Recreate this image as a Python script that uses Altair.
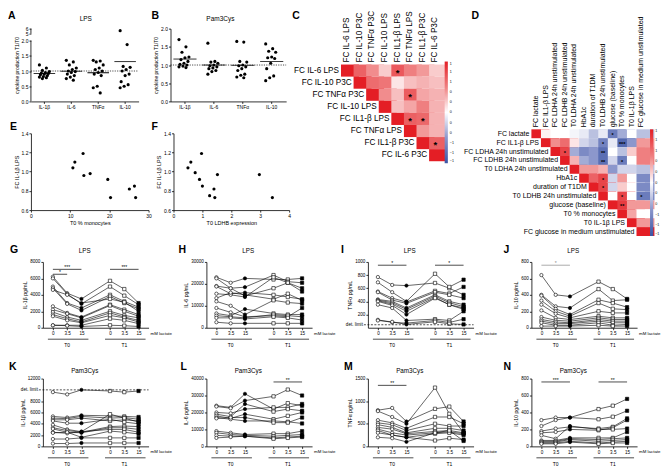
import altair as alt
import pandas as pd

# ---------------- A / B : cytokine production T1/T0 ----------------
CYTOKINES = ["IL-1β", "IL-6", "TNFα", "IL-10"]
A_IL1B = [1.20, 1.10, 1.02, 0.98, 0.95, 0.93, 0.92, 0.90, 0.88, 0.85, 0.82, 0.80, 0.78, 0.75]
A_IL6 = [1.35, 1.30, 1.20, 1.10, 1.05, 1.00, 0.98, 0.95, 0.90, 0.85, 0.80, 0.75, 0.70]
A_TNFA = [1.35, 1.33, 1.30, 1.20, 1.10, 1.05, 1.00, 0.95, 0.90, 0.85, 0.50, 0.45, 0.28]
A_IL10 = [5.60, 1.87, 1.15, 1.12, 1.05, 1.00, 0.90, 0.85, 0.65, 0.55, 0.50, 0.45]
B_IL1B = [1.70, 1.50, 1.35, 1.22, 1.20, 1.15, 1.10, 1.05, 1.02, 1.00, 0.97, 0.95, 0.93]
B_IL6 = [1.60, 1.10, 1.08, 1.05, 1.00, 0.98, 0.95, 0.92, 0.90, 0.85, 0.82, 0.75]
B_TNFA = [1.65, 1.63, 1.10, 1.08, 1.00, 0.98, 0.95, 0.90, 0.85, 0.75, 0.72, 0.67, 0.65]
B_IL10 = [1.58, 1.45, 1.38, 1.35, 1.22, 1.20, 1.18, 1.05, 0.90, 0.70, 0.65, 0.57]

# ---------------- E / F : scatter ----------------
E_MONO = [10.7, 11.2, 13.3, 13.5, 15.1, 19.6, 20.3, 25.1, 26.4, 26.7]
E_FC = [1.04, 1.10, 1.19, 0.96, 0.98, 0.92, 0.73, 0.82, 0.85, 0.73]
F_LDHB = [0.50, 0.60, 0.75, 0.90, 0.97, 1.00, 1.25, 1.40, 1.43, 1.52, 2.97, 3.42]
F_FC = [1.04, 1.10, 0.99, 0.92, 1.19, 0.85, 0.75, 0.82, 0.73, 0.97, 0.97, 0.73]

# ---------------- C / D : correlation matrices (upper triangle) ----------------
C_VARS = ["FC IL-6 LPS", "FC IL-10 P3C", "FC TNFα P3C", "FC IL-10 LPS",
          "FC IL1-β LPS", "FC TNFα LPS", "FC IL1-β P3C", "FC IL-6 P3C"]
C_ROWS = [
    [1.0, 0.65, 0.45, 0.20, 0.70, 0.50, 0.40, 0.20],
    [1.0, 0.60, 0.55, 0.10, 0.25, 0.30, 0.25],
    [1.0, 0.45, 0.25, 0.68, 0.35, 0.30],
    [1.0, 0.25, 0.35, 0.50, 0.30],
    [1.0, 0.66, 0.62, 0.30],
    [1.0, 0.40, 0.30],
    [1.0, 0.66],
    [1.0],
]
C_SIG = [(0, 4, "*"), (2, 5, "*"), (4, 5, "*"), (4, 6, "*"), (6, 7, "*")]

D_VARS = ["FC lactate", "FC IL1-β LPS", "FC LDHA 24h unstimulated", "FC LDHB 24h unstimulated",
          "T0 LDHA 24h unstimulated", "HbA1c", "duration of T1DM", "T0 LDHB 24h unstimulated",
          "glucose (baseline)", "T0 % monocytes", "T0 IL-1β LPS", "FC glucose in medium unstimulated"]
D_ROWS = [
    [1.0, 0.05, 0.0, 0.0, -0.05, -0.10, -0.30, -0.10, -0.70, -0.40, 0.00, -0.30],
    [1.0, 0.45, 0.60, 0.10, -0.20, -0.30, -0.65, -0.10, -0.85, -0.50, 0.40],
    [1.0, 0.80, -0.40, -0.60, -0.50, -0.80, 0.00, -0.30, 0.20, 0.50],
    [1.0, 0.30, -0.40, -0.50, -0.80, -0.20, -0.70, 0.00, 0.50],
    [1.0, 0.40, 0.40, 0.30, -0.50, -0.20, -0.20, -0.30],
    [1.0, 0.65, 0.80, -0.20, 0.40, 0.00, -0.60],
    [1.0, 0.80, -0.20, 0.20, 0.00, -0.60],
    [1.0, 0.00, 0.80, 0.00, -0.70],
    [1.0, 0.85, 0.40, 0.40],
    [1.0, 0.35, 0.00],
    [1.0, 0.40],
    [1.0],
]
D_SIG = [(0, 8, "*"), (1, 7, "*"), (1, 9, "***"), (2, 3, "*"), (2, 7, "**"), (3, 7, "**"),
         (3, 9, "*"), (5, 7, "*"), (6, 7, "*"), (7, 9, "*"), (7, 11, "*"), (8, 9, "**")]

# ---------------- G-N : donors x (T0: 0, 3.5, 15 mM ; T1: 0, 3.5, 15 mM) ----------------
G_DONORS = [
    [6200, 4200, 3500, 5700, 4700, 3000], [6000, 4100, 2900, 5000, 3900, 2800],
    [5000, 3000, 2400, 4000, 3200, 2500], [4800, 2900, 2100, 3800, 3000, 2300],
    [4600, 4000, 3000, 3500, 3100, 2000], [2600, 1800, 1300, 2800, 2200, 1600],
    [2200, 1700, 1200, 2700, 2000, 1400], [1900, 1300, 900, 2000, 1500, 1200],
    [1600, 1100, 700, 1800, 1300, 900], [1400, 900, 600, 1500, 1200, 700],
    [300, 300, 300, 1100, 900, 500], [300, 250, 150, 300, 250, 150],
]
H_DONORS = [
    [23000, 20500, 22500, 22000, 22000, 22500], [22500, 18000, 18500, 24000, 21000, 20500],
    [19000, 18000, 14500, 18000, 20500, 16500], [18800, 15500, 16000, 15000, 14000, 13000],
    [15500, 15000, 14000, 23000, 20500, 18000], [13500, 16000, 15000, 13000, 15500, 12500],
    [12000, 10000, 6000, 12500, 11500, 11000], [9000, 7000, 5000, 5500, 5000, 9000],
    [6500, 5500, 8500, 6500, 6000, 6000], [5500, 5000, 4500, 6000, 5500, 5000],
    [4500, 4500, 4000, 5000, 4500, 3500], [2500, 2000, 2000, 2000, 2000, 2000],
]
I_DONORS = [
    [770, 650, 640, 680, 600, 500], [690, 540, 400, 820, 620, 730],
    [550, 450, 390, 560, 520, 620], [540, 420, 370, 540, 500, 450],
    [430, 400, 300, 500, 400, 350], [420, 380, 280, 480, 380, 320],
    [410, 360, 250, 460, 350, 300], [400, 340, 200, 450, 350, 280],
    [350, 300, 110, 130, 110, 250], [120, 80, 70, 110, 80, 130],
    [110, 90, 50, 90, 60, 50],
]
J_DONORS = [
    [640, 400, 380, 560, 470, 350], [400, 260, 240, 470, 330, 340],
    [390, 230, 160, 340, 300, 250], [330, 200, 140, 300, 230, 220],
    [280, 170, 120, 200, 180, 180], [210, 120, 100, 140, 120, 120],
    [130, 90, 80, 120, 100, 100], [100, 70, 60, 100, 80, 80],
    [80, 50, 50, 80, 60, 60], [60, 30, 30, 60, 30, 40], [20, 20, 20, 30, 20, 20],
]
K_DONORS = [
    [9600, 9200, 10000, 9800, 9600, 9800], [5300, 5100, 5500, 5400, 5300, 5200],
    [5000, 4900, 5300, 5000, 5100, 4800], [4700, 4700, 5000, 4500, 4700, 4500],
    [4500, 4100, 4100, 4800, 4300, 4000], [3800, 3000, 2600, 5700, 5000, 4300],
    [3300, 2800, 2500, 3500, 3600, 3500], [3100, 2500, 2400, 3300, 3300, 3000],
    [2500, 2300, 2600, 3000, 3000, 2500], [2400, 2500, 1600, 2700, 2500, 2200],
    [1300, 1300, 1500, 1500, 1500, 1500], [500, 500, 600, 600, 600, 600],
]
L_DONORS = [
    [24000, 23000, 31000, 22000, 25500, 24000], [23500, 22500, 27000, 29500, 33500, 30000],
    [20000, 19500, 22000, 23000, 23000, 25000], [19000, 17500, 25000, 20500, 22000, 21000],
    [18000, 16500, 19000, 16000, 18000, 20000], [17000, 16000, 15000, 15000, 14500, 13500],
    [16500, 17000, 17000, 14000, 14000, 17000], [9000, 8000, 7000, 7500, 7500, 9000],
    [8000, 7000, 6500, 6000, 6500, 7000], [6500, 6000, 6000, 5000, 5500, 6000],
    [5000, 5500, 6000, 4500, 5000, 5500],
]
M_DONORS = [
    [800, 850, 550, 830, 880, 550], [780, 650, 500, 1300, 720, 300],
    [580, 520, 400, 650, 650, 500], [520, 480, 350, 500, 450, 450],
    [480, 420, 300, 400, 400, 350], [420, 380, 280, 330, 350, 300],
    [380, 300, 250, 300, 320, 280], [350, 250, 200, 280, 300, 250],
    [300, 250, 200, 130, 180, 150], [200, 180, 100, 300, 350, 120],
]
N_DONORS = [
    [310, 340, 340, 440, 480, 560], [240, 310, 340, 320, 350, 420],
    [180, 210, 230, 210, 230, 330], [160, 170, 200, 190, 220, 310],
    [130, 90, 240, 200, 200, 210], [70, 70, 100, 100, 100, 170],
    [60, 60, 90, 80, 90, 100], [50, 50, 80, 60, 70, 80],
    [40, 40, 60, 40, 50, 60], [30, 30, 50, 30, 40, 40],
]
CONDITIONS = [("T0", "0"), ("T0", "3.5"), ("T0", "15"), ("T1", "0"), ("T1", "3.5"), ("T1", "15")]

# ---------------- layout / style ----------------
FONT = "Liberation Sans"
RED = "#E41E25"
BLUE = "#3A54A4"
COL_W = [140, 171, 191, 122]
ROW_H = [93, 109, 118, 119]
PTOP = [20, 32, 52, 51]
PW = 106
ONE = pd.DataFrame({"k": [0]})
KEYS = ["T0|0", "T0|3.5", "T0|15", "gap", "T1|0", "T1|3.5", "T1|15"]


def txt(s, x, y, size, weight="normal", align="left", baseline="alphabetic", color="black"):
    return alt.Chart(ONE).mark_text(text=s, fontSize=size, fontWeight=weight, align=align,
                                    baseline=baseline, color=color, font=FONT).encode(
        x=alt.value(x), y=alt.value(y))


def letter(s, x, y):
    return txt(s, x, y, 10.5, weight="bold")


def strip_panel(lists, col, W, yscale, yvals, broken, let, letx, title, titlex):
    H = ROW_H[0]
    recs = []
    for cat, vals in zip(CYTOKINES, lists):
        for i, v in enumerate(vals):
            recs.append({"cyt": cat, "v": v, "j": ((i * 7) % 11 - 5) / 5})
    df = pd.DataFrame(recs)
    bw = W / 4
    xs = alt.Scale(domain=CYTOKINES, range=[0, W], paddingInner=0, paddingOuter=0)
    xax = alt.Axis(title=None, labelAngle=0, tickSize=2, labelFontSize=5, labelPadding=1)
    yax = alt.Axis(title="cytokine production T1/T0", values=yvals,
                   labelExpr="datum.value > 3 ? format(datum.value, 'd') : format(datum.value, '.1f')",
                   tickSize=2, labelFontSize=5, labelPadding=1, titlePadding=2, titleFontSize=5,
                   domain=not broken)
    base = alt.Chart(df)
    pts = base.mark_circle(size=10, color="black", opacity=1).encode(
        x=alt.X("cyt:N", scale=xs, axis=xax),
        xOffset=alt.XOffset("j:Q", scale=alt.Scale(domain=[-1, 1], range=[bw / 2 - 5, bw / 2 + 5])),
        y=alt.Y("v:Q", scale=yscale, axis=yax))
    mean = base.mark_tick(color="black", thickness=0.8, size=bw * 0.8).encode(
        x=alt.X("cyt:N", scale=xs, axis=xax),
        y=alt.Y("mean(v):Q", scale=yscale, axis=yax))
    ref = alt.Chart(ONE).mark_rule(color="black", strokeWidth=0.7, strokeDash=[1.2, 1.2]).encode(
        x=alt.value(0), x2=alt.value(W), y=alt.YDatum(1, scale=yscale, axis=yax))
    layers = [pts, mean, ref]
    if broken:
        for a, b in [(0, 2.0), (5, 6)]:
            layers.append(alt.Chart(ONE).mark_rule(color="black", strokeWidth=0.8).encode(
                x=alt.value(0), y=alt.YDatum(a, scale=yscale, axis=yax), y2=alt.Y2Datum(b)))
    layers += [letter(let, letx, 10), txt(title, titlex, 12, 6.5, align="center")]
    return alt.layer(*layers).properties(width=COL_W[col], height=H)


def scatter_panel(xv, yv, col, xdom, xticks, xtitle, x0, W, let, letx):
    H, top = ROW_H[1], PTOP[1]
    df = pd.DataFrame({"x": xv, "y": yv})
    xs = alt.Scale(domain=xdom, range=[x0, x0 + W], nice=False, zero=False)
    ys = alt.Scale(domain=[0.6, 1.4], range=[H, top], nice=False, zero=False)
    pts = alt.Chart(df).mark_circle(size=10, color="black", opacity=1).encode(
        x=alt.X("x:Q", scale=xs, axis=alt.Axis(title=xtitle, values=xticks, format="d", tickSize=2,
                                               labelFontSize=5, titleFontSize=5.5, labelPadding=1,
                                               titlePadding=2, labelFlush=False)),
        y=alt.Y("y:Q", scale=ys, axis=alt.Axis(title="FC IL-1β LPS", values=[0.6, 0.8, 1.0, 1.2, 1.4],
                                               format=".1f", offset=-x0, tickSize=2, labelFontSize=5,
                                               titleFontSize=5.5, labelPadding=1, titlePadding=2,
                                               labelFlush=False)))
    return alt.layer(pts, letter(let, letx, 29)).properties(width=COL_W[col], height=H)


def heat_panel(vars_, rows, sig, col, xr, yr, fs, sigfs, legx, legy, leglen, let, letx):
    n = len(vars_)
    cw = (xr[1] - xr[0]) / n
    ch = (yr[1] - yr[0]) / n
    recs = []
    for i, row in enumerate(rows):
        for k, v in enumerate(row):
            recs.append({"r": vars_[i], "c": vars_[i + k], "v": v})
    df = pd.DataFrame(recs)
    xs = alt.Scale(domain=vars_, range=xr, paddingInner=0, paddingOuter=0)
    ys = alt.Scale(domain=vars_, range=yr, paddingInner=0, paddingOuter=0)
    X = alt.X("c:N", scale=xs, axis=None)
    Y = alt.Y("r:N", scale=ys, axis=None)
    rect = alt.Chart(df).mark_rect().encode(
        x=X, y=Y,
        color=alt.Color("v:Q", scale=alt.Scale(domain=[-1, -0.5, 0, 0.5, 1],
                                               range=[BLUE, "#8C97CC", "#FFFFFF", "#EF7F80", RED],
                                               interpolate="rgb"),
                        legend=alt.Legend(orient="none", legendX=legx, legendY=legy,
                                          direction="vertical", gradientLength=leglen,
                                          gradientThickness=3.2, title=None,
                                          values=[1, 0.8, 0.6, 0.4, 0.2, 0, -0.2, -0.4, -0.6, -0.8, -1],
                                          labelFontSize=3.6, labelOverlap=False, labelOffset=2,
                                          gradientStrokeWidth=0, labelFont=FONT)))
    lab = pd.DataFrame({"r": vars_, "c": vars_})
    rowlab = alt.Chart(lab).mark_text(align="right", baseline="middle", fontSize=fs, dx=-(cw / 2 + 2),
                                      font=FONT).encode(x=X, y=Y, text="r:N")
    top = pd.DataFrame({"c": vars_, "r": [vars_[0]] * n})
    collab = alt.Chart(top).mark_text(align="left", baseline="middle", angle=270, fontSize=fs,
                                      dx=ch / 2 + 2, font=FONT).encode(x=X, y=Y, text="c:N")
    sdf = pd.DataFrame([{"r": vars_[i], "c": vars_[j], "s": s} for i, j, s in sig])
    stars = alt.Chart(sdf).mark_text(baseline="middle", fontSize=sigfs, fontWeight="bold",
                                     dy=sigfs * 0.25, font=FONT).encode(x=X, y=Y, text="s:N")
    return alt.layer(rect, rowlab, collab, stars, letter(let, letx, 10)).properties(
        width=COL_W[col], height=ROW_H[0])


def line_panel(donors, ymax, yticks, ytitle, col, row, x0, let, letx, title,
               sig=(), det=None):
    W, H, top = COL_W[col], ROW_H[row], PTOP[row]
    recs = []
    for d, vals in enumerate(donors):
        for i, ((tp, lac), v) in enumerate(zip(CONDITIONS, vals)):
            recs.append({"donor": d, "tp": tp, "lac": lac, "key": f"{tp}|{lac}", "idx": i, "v": v})
    df = pd.DataFrame(recs)
    xs = alt.Scale(type="point", domain=KEYS, range=[x0, x0 + PW], padding=0.7)
    ys = alt.Scale(domain=[0, ymax], range=[H, top], nice=False, zero=False)
    xax = alt.Axis(title=None, values=KEYS[:3] + KEYS[4:], labelExpr="split(datum.value, '|')[1]",
                   labelAngle=0, tickSize=2, labelPadding=1)
    yax = alt.Axis(title=ytitle, values=yticks, format="d", offset=-x0, tickSize=2,
                   labelPadding=1, titlePadding=2)
    X = alt.X("key:N", scale=xs, axis=xax)
    Y = alt.Y("v:Q", scale=ys, axis=yax)
    base = alt.Chart(df)
    lines = base.mark_line(color="black", strokeWidth=0.6).encode(
        x=X, y=Y, detail="donor:N", order="idx:Q")
    pts = base.mark_point(filled=True, size=11, stroke="black", strokeWidth=0.6, opacity=1).encode(
        x=X, y=Y,
        shape=alt.Shape("tp:N", scale=alt.Scale(domain=["T0", "T1"], range=["circle", "square"]),
                        legend=None),
        fill=alt.condition("datum.lac == '15'", alt.value("black"), alt.value("white")))
    layers = [lines, pts]
    under = pd.DataFrame({"a": ["T0|0", "T1|0"], "b": ["T0|15", "T1|15"],
                          "m": ["T0|3.5", "T1|3.5"], "lab": ["T0", "T1"]})
    layers.append(alt.Chart(under).mark_rule(color="black", strokeWidth=0.7, xOffset=-5, x2Offset=7).encode(
        x=alt.X("a:N", scale=xs, axis=xax), x2="b:N", y=alt.value(H + 11.5)))
    layers.append(alt.Chart(under).mark_text(fontSize=5, baseline="alphabetic", font=FONT).encode(
        x=alt.X("m:N", scale=xs, axis=xax), y=alt.value(H + 19.5), text="lab:N"))
    layers.append(txt("mM lactate", x0 + PW + 2, H + 6, 4.4, baseline="middle"))
    for a, b, yv, lab, mid, dx, colr in sig:
        layers.append(alt.Chart(ONE).mark_rule(color=colr, strokeWidth=0.7).encode(
            x=alt.XDatum(a, type="nominal", scale=xs, axis=xax), x2=alt.X2Datum(b),
            y=alt.YDatum(yv, scale=ys, axis=yax)))
        layers.append(alt.Chart(ONE).mark_text(text=lab, fontSize=5, dx=dx, dy=1, baseline="bottom",
                                               color=colr, font=FONT).encode(
            x=alt.XDatum(mid, type="nominal", scale=xs, axis=xax), y=alt.YDatum(yv, scale=ys, axis=yax)))
    if det is not None:
        layers.append(alt.Chart(ONE).mark_rule(color="black", strokeWidth=0.7, strokeDash=[2, 1.5]).encode(
            x=alt.value(x0 - 4), x2=alt.value(x0 + PW), y=alt.YDatum(det, scale=ys, axis=yax)))
        layers.append(alt.Chart(ONE).mark_text(text="det. limit", align="right", baseline="middle",
                                               fontSize=4.6, font=FONT).encode(
            x=alt.value(x0 - 5), y=alt.YDatum(det, scale=ys, axis=yax)))
    ly = 43 if row == 2 else 42
    ty = 43 if row == 2 else 45
    layers += [letter(let, letx, ly), txt(title, x0 + 42, ty, 6.3, align="center")]
    return alt.layer(*layers).properties(width=W, height=H)


# ---------------- panels ----------------
A = strip_panel([A_IL1B, A_IL6, A_TNFA, A_IL10], 0, 108,
                alt.Scale(domain=[0, 2, 5, 6], range=[93, 32, 25, 20], nice=False, zero=False),
                [0, 0.5, 1.0, 1.5, 2.0, 5, 6], True, "A", -23, "LPS", 55)
B = strip_panel([B_IL1B, B_IL6, B_TNFA, B_IL10], 1, 116,
                alt.Scale(domain=[0, 2], range=[93, 20], nice=False, zero=False),
                [0, 0.5, 1.0, 1.5, 2.0], False, "B", -19, "Pam3Cys", 50)
C = heat_panel(C_VARS, C_ROWS, C_SIG, 2, [0, 101], [56, 153], 8.2, 9.5, 104, 53, 102, "C", -49)
D = heat_panel(D_VARS, D_ROWS, D_SIG, 3, [0, 115], [121, 228], 7.0, 5.5, 119, 121, 107, "D", -60)
E = scatter_panel(E_MONO, E_FC, 0, [0, 30], [0, 10, 20, 30], "T0 % monocytes", 0, 118, "E", -21)
F = scatter_panel(F_LDHB, F_FC, 1, [0, 4], [0, 1, 2, 3, 4], "T0 LDHB expression", 3, 116, "F", -19)
DUM3 = alt.Chart(ONE).mark_point(opacity=0).encode(x=alt.value(0), y=alt.value(0)).properties(
    width=COL_W[2], height=ROW_H[1])
DUM4 = alt.Chart(ONE).mark_point(opacity=0).encode(x=alt.value(0), y=alt.value(0)).properties(
    width=COL_W[3], height=ROW_H[1])

G = line_panel(G_DONORS, 8000, [0, 2000, 4000, 6000, 8000], "IL-1β pg/mL", 0, 2, 12, "G", -21, "LPS",
               sig=[("T0|0", "T0|15", 7100, "***", "T0|3.5", 0, "black"),
                    ("T0|0", "T0|3.5", 6500, "*", "T0|0", 7, "black"),
                    ("T1|0", "T1|15", 7100, "***", "T1|3.5", 0, "black")])
H = line_panel(H_DONORS, 30000, [0, 10000, 20000, 30000], "IL-6 pg/mL", 1, 2, 36, "H", 8, "LPS")
I = line_panel(I_DONORS, 1000, [200, 400, 600, 800, 1000], "TNFα pg/mL", 2, 2, 27, "I", 0, "LPS",
               sig=[("T0|0", "T0|15", 950, "*", "T0|3.5", 0, "black"),
                    ("T1|0", "T1|15", 950, "*", "T1|3.5", 0, "black")], det=45)
J = line_panel(J_DONORS, 800, [0, 200, 400, 600, 800], "IL-10 pg/mL", 3, 2, 0, "J", -28, "LPS",
               sig=[("T0|0", "T0|15", 760, "*", "T0|3.5", 0, "#888888")])
K = line_panel(K_DONORS, 12000, [0, 2000, 4000, 6000, 8000, 12000], "IL-1β pg/mL", 0, 3, 12, "K", -22,
               "Pam3Cys", det=10000)
L = line_panel(L_DONORS, 40000, [0, 10000, 20000, 30000, 40000], "IL-6 pg/mL", 1, 3, 36, "L", 10,
               "Pam3Cys", sig=[("T1|0", "T1|15", 38000, "**", "T1|3.5", 0, "black")])
M = line_panel(M_DONORS, 1500, [0, 500, 1000, 1500], "TNFα pg/mL", 2, 3, 27, "M", 3, "Pam3Cys",
               sig=[("T0|0", "T0|15", 1350, "**", "T0|3.5", 0, "black")])
N = line_panel(N_DONORS, 800, [0, 200, 400, 600, 800], "IL-10 pg/mL", 3, 3, 0, "N", -28, "Pam3Cys",
               sig=[("T0|0", "T0|15", 760, "***", "T0|3.5", 0, "black"),
                    ("T1|0", "T1|15", 760, "**", "T1|3.5", 0, "black")])

chart = alt.concat(A, B, C, D, E, F, DUM3, DUM4, G, H, I, J, K, L, M, N,
                   columns=4, spacing=0, bounds="flush", align="each").properties(padding=0)
chart = chart.resolve_scale(color="independent", shape="independent")
chart = chart.configure(font=FONT).configure_view(stroke=None).configure_axis(
    domainColor="black", tickColor="black", labelColor="black", titleColor="black",
    domainWidth=0.8, tickWidth=0.8, labelFontSize=4.6, titleFontSize=5.2,
    titleFontWeight="normal", grid=False, labelFont=FONT, titleFont=FONT)

chart.save("out.html", embed_options={"renderer": "svg", "actions": False})
